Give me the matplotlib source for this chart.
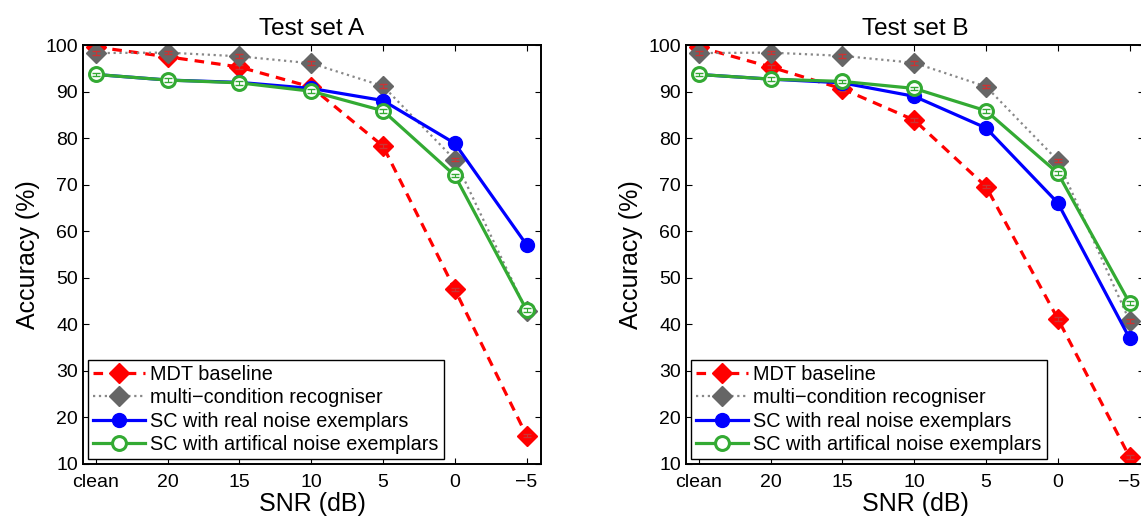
import numpy as np
import matplotlib.pyplot as plt

plt.rcParams['font.family'] = ['Liberation Sans', 'DejaVu Sans']

# SNR conditions
snr_labels = ['clean', '20', '15', '10', '5', '0', '\u22125']

# Test set A
mdt_A = [99.6, 97.5, 95.3, 91.0, 78.3, 47.5, 16.1]
multi_A = [98.3, 98.4, 97.6, 96.1, 91.2, 75.4, 42.9]
sc_real_A = [93.7, 92.5, 92.0, 90.7, 88.1, 78.9, 57.1]
sc_art_A = [93.7, 92.5, 91.9, 90.1, 85.9, 72.0, 43.1]

# Test set B
mdt_B = [99.6, 95.3, 90.6, 83.9, 69.6, 41.2, 11.5]
multi_B = [98.3, 98.4, 97.7, 96.2, 91.1, 75.2, 40.7]
sc_real_B = [93.7, 92.7, 91.9, 89.0, 82.2, 66.1, 37.0]
sc_art_B = [93.7, 92.7, 92.2, 90.7, 85.9, 72.5, 44.6]

# small standard errors (drawn inside markers)
err = 0.4

x = np.arange(1, len(snr_labels) + 1)

red = '#ff0000'
grey = '#666666'
blue = '#0000ff'
green = '#33aa33'

fig = plt.figure(figsize=(11.41, 5.19), dpi=100)
axA = fig.add_axes([0.0727, 0.106, 0.4014, 0.807])
axB = fig.add_axes([0.6012, 0.106, 0.4014, 0.807])


def draw(ax, mdt, multi, real, art, title):
    ax.plot(x, mdt, '--', color=red, lw=2.3, marker='D', ms=10.5,
            mfc=red, mec=red, label='MDT baseline', dashes=(3, 2.2))
    ax.errorbar(x, mdt, yerr=err, fmt='none', ecolor='#cc3333', elinewidth=0.8, capsize=3)
    ax.plot(x, multi, ':', color='#888888', lw=1.6, marker='D', ms=10.5,
            mfc=grey, mec=grey, label='multi\u2212condition recogniser')
    ax.errorbar(x, multi, yerr=err, fmt='none', ecolor='#cc3333', elinewidth=0.8, capsize=3)
    ax.plot(x, real, '-', color=blue, lw=2.3, marker='o', ms=10,
            mfc=blue, mec=blue, label='SC with real noise exemplars')
    ax.errorbar(x, real, yerr=err, fmt='none', ecolor=blue, elinewidth=0.8, capsize=3)
    ax.plot(x, art, '-', color=green, lw=2.3, marker='o', ms=10,
            mfc='white', mec=green, mew=2.2, label='SC with artifical noise exemplars')
    ax.errorbar(x, art, yerr=err, fmt='none', ecolor=green, elinewidth=0.8, capsize=3)

    ax.set_xlim(0.82, 7.2)
    ax.set_ylim(10, 100)
    ax.set_xticks(x)
    ax.set_xticklabels(snr_labels)
    ax.set_yticks(np.arange(10, 101, 10))
    ax.tick_params(direction='in', top=True, right=True, labelsize=14, length=4, width=0.8)
    ax.tick_params(axis='x', pad=7)
    for s in ax.spines.values():
        s.set_linewidth(1.4)
    ax.set_title(title, fontsize=17.5, pad=7)
    ax.set_xlabel('SNR (dB)', fontsize=18, labelpad=1)
    ax.set_ylabel('Accuracy (%)', fontsize=18, labelpad=4)
    leg = ax.legend(loc='lower left', fontsize=14.3, fancybox=False, framealpha=1,
                    edgecolor='black', borderaxespad=0.25, handlelength=2.6,
                    labelspacing=0.22, borderpad=0.25, handletextpad=0.3)
    leg.get_frame().set_linewidth(1.0)


draw(axA, mdt_A, multi_A, sc_real_A, sc_art_A, 'Test set A')
draw(axB, mdt_B, multi_B, sc_real_B, sc_art_B, 'Test set B')

fig.savefig('out.png', dpi=100)
